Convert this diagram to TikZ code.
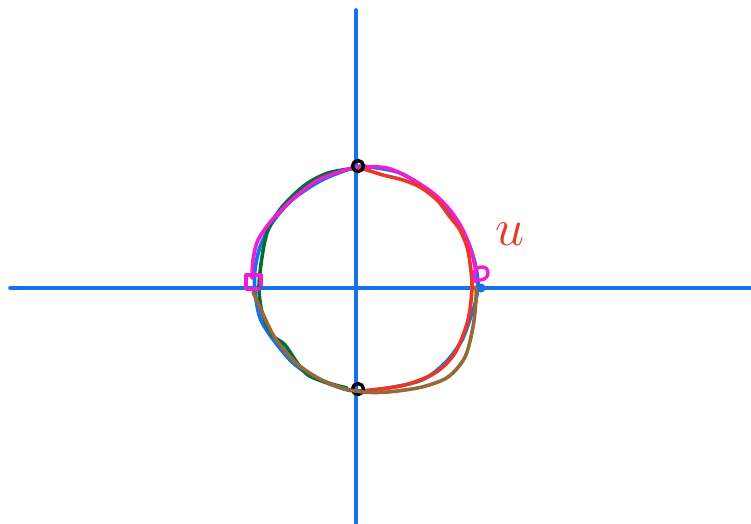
\documentclass[tikz,border=0pt]{standalone}
\usepackage{graphicx}
\usepackage{tikz}
\definecolor{skblue}{RGB}{22,112,240}
\definecolor{skgreen}{RGB}{0,112,56}
\definecolor{skmagenta}{RGB}{240,30,210}
\definecolor{skred}{RGB}{235,55,35}
\definecolor{skbrown}{RGB}{150,105,55}
\usetikzlibrary{positioning}

\begin{document}
\begin{tikzpicture}[x=1pt, y=-1pt, line cap=round, line join=round,
  stroke/.style={line width=3.6pt},
  marker/.style={line width=3.4pt}]
\useasboundingbox (0,0) rectangle (751,523);
% axes
\coordinate (xl) at (10,288); \coordinate (xr) at (751,288);
\coordinate (yt) at (356,10); \coordinate (yb) at (356,523);
\draw[skblue, stroke] (xl) -- (xr);
\draw[skblue, stroke] (yt) -- (yb);
% unit circle
\draw[skblue, stroke] plot[smooth cycle] coordinates {(356,167) (370,167) (400,173) (427,190) (450,213) (467,240) (475,263) (478,283) (476,300) (472,313) (462,340) (445,363) (422,380) (388,388) (355,391) (335,386) (312,376) (292,362) (272,338) (260,318) (255,292) (255,270) (260,247) (272,223) (292,200) (322,180)};
\fill[skblue] (481,288) circle[radius=4.5];
% upper left (green)
\draw[skgreen, stroke] plot[smooth] coordinates {(356,168) (328,173) (305,185) (282,207) (268,230) (262,257) (259,287) (262,312) (272,335) (285,345) (308,375) (347,388)};
% upper half (magenta)
\draw[skmagenta, stroke] plot[smooth] coordinates {(252,278) (253,260) (258,240) (272,220) (295,197) (318,180) (345,170) (362,167) (387,168) (410,178) (433,193) (450,210) (463,230) (472,253) (476,273)};
% right half (red)
\draw[skred, stroke] plot[smooth] coordinates {(360,168) (367,170) (383,175) (403,180) (420,187) (437,200) (450,217) (460,230) (467,247) (470,263) (472,287) (468,320) (455,353) (435,373) (405,385) (372,390) (355,392)};
% bottom dot
\coordinate (pb) at (358,389);
\draw[black, marker] (pb) circle[radius=5.5];
% lower half (brown)
\draw[skbrown, stroke] plot[smooth] coordinates {(253,292) (262,312) (275,338) (295,362) (318,378) (342,388) (363,392) (388,392) (422,387) (448,377) (465,357) (473,327) (476,300) (476,287)};
% top dot
\coordinate (pt) at (358,166);
\draw[black, marker] (pt) circle[radius=5.5];
% magenta markers
\draw[skmagenta, marker] (259,289) -- (246,289) -- (246,275) -- (261,275) -- (261,285);
\draw[skmagenta, marker] (476,282) .. controls (470,272) and (478,264) .. (486,268) .. controls (492,275) and (484,283) .. (474,279);
% label
\node[skred, font=\Huge] (lu) at (510,234) {\scalebox{2.1}{$u$}};
\end{tikzpicture}
\end{document}
